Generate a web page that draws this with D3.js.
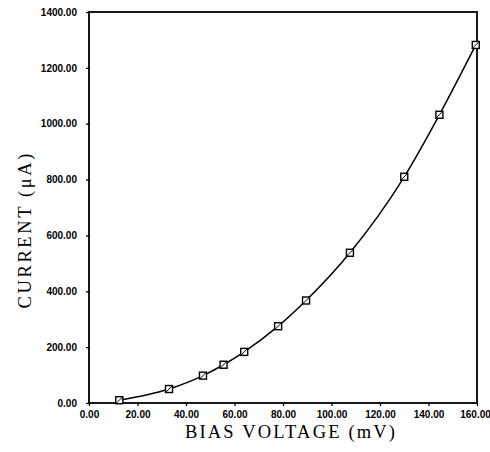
<!DOCTYPE html>
<html>
<head>
<meta charset="utf-8">
<script src="https://d3js.org/d3.v7.min.js"></script>
<style>
  body { margin: 0; background: white; }
  .tick text { font-family: "Liberation Sans", Arial, sans-serif; font-weight: bold; font-size: 10px; fill: black; }
  .title { font-family: "Liberation Serif", "Times New Roman", serif; font-size: 18.5px; fill: black; }
</style>
</head>
<body>
<div id="chart"></div>
<script>
// bias voltage (mV) and current (uA)
var voltage = [12.5, 33, 47, 55.5, 64, 78, 89.5, 107.6, 130, 144.5, 159.5];
var current = [10, 50, 98, 137, 183, 275, 367, 538, 810, 1032, 1282];
var xTicks = [0, 20, 40, 60, 80, 100, 120, 140, 160];
var yTicks = [0, 200, 400, 600, 800, 1000, 1200, 1400];

var W = 490, H = 452;
var margin = { top: 12, right: 13, bottom: 49, left: 89 };
var width = W - margin.left - margin.right,
    height = H - margin.top - margin.bottom;

var svg = d3.select("#chart").append("svg")
  .attr("width", W).attr("height", H);
var g = svg.append("g")
  .attr("transform", "translate(" + margin.left + "," + margin.top + ")");

var x = d3.scaleLinear().domain([0, 160]).range([0, width]);
var y = d3.scaleLinear().domain([0, 1400]).range([height, 0]);

var fmt = d3.format(".2f");

// axes
var xAxis = g.append("g")
  .attr("transform", "translate(0," + height + ")")
  .call(d3.axisBottom(x).tickValues(xTicks).tickFormat(fmt).tickSize(3).tickPadding(5));
var yAxis = g.append("g")
  .call(d3.axisLeft(y).tickValues(yTicks).tickFormat(fmt).tickSize(3).tickPadding(9));
[xAxis, yAxis].forEach(function (a) {
  a.select(".domain").remove();
  a.selectAll(".tick line").attr("stroke", "black").attr("stroke-width", 1.3);
});
// last x label sits against the page edge
xAxis.selectAll(".tick text").filter(function (d) { return d === 160; }).attr("dx", -2);

// frame
g.append("rect")
  .attr("x", 0).attr("y", 0)
  .attr("width", width).attr("height", height)
  .attr("fill", "none").attr("stroke", "black").attr("stroke-width", 1.8);

var pts = voltage.map(function (v, i) { return [v, current[i]]; });

// curve through the points
g.append("path")
  .datum(pts)
  .attr("fill", "none")
  .attr("stroke", "black")
  .attr("stroke-width", 1.5)
  .attr("d", d3.line()
    .x(function (d) { return x(d[0]); })
    .y(function (d) { return y(d[1]); })
    .curve(d3.curveMonotoneX));

// square markers with slash
var s = 3.5;
var mk = g.selectAll(".mk").data(pts).enter().append("g")
  .attr("class", "mk")
  .attr("transform", function (d) { return "translate(" + x(d[0]) + "," + y(d[1]) + ")"; });
mk.append("rect")
  .attr("x", -s).attr("y", -s).attr("width", 2 * s).attr("height", 2 * s)
  .attr("fill", "white").attr("stroke", "black").attr("stroke-width", 1.4);
mk.append("line")
  .attr("x1", -s).attr("y1", s).attr("x2", s).attr("y2", -s)
  .attr("stroke", "black").attr("stroke-width", 1);

// titles (typewriter look: serif face spread to monospace width)
svg.append("text")
  .attr("class", "title")
  .attr("x", 290).attr("y", 438)
  .attr("text-anchor", "middle")
  .attr("textLength", 210).attr("lengthAdjust", "spacing")
  .text("BIAS VOLTAGE (mV)");
svg.append("text")
  .attr("class", "title")
  .attr("transform", "translate(31,231) rotate(-90)")
  .attr("text-anchor", "middle")
  .attr("textLength", 155).attr("lengthAdjust", "spacing")
  .text("CURRENT (μA)");
</script>
</body>
</html>
